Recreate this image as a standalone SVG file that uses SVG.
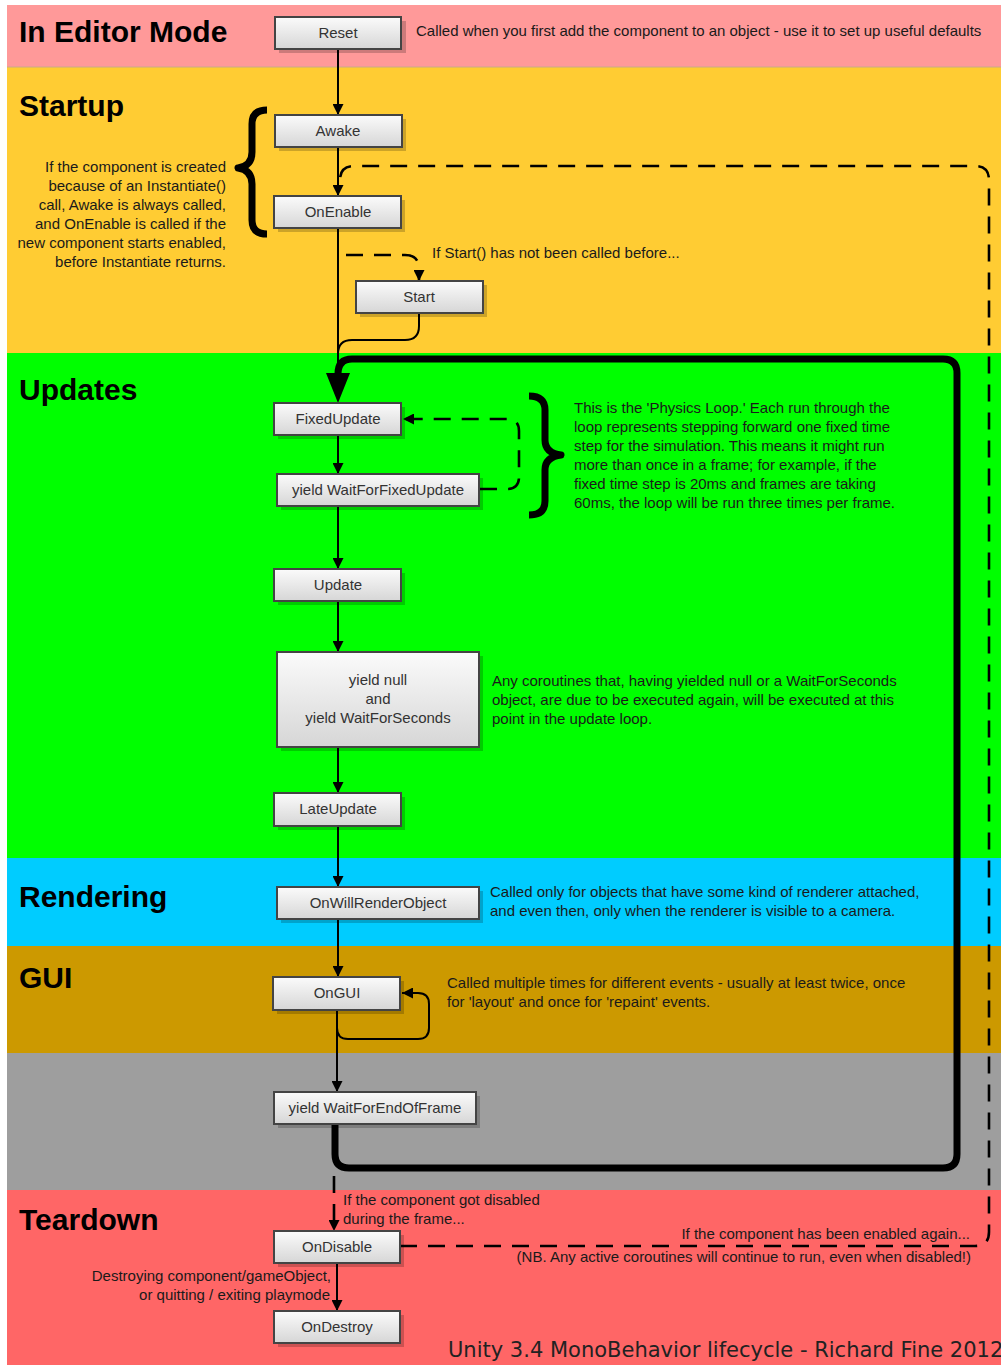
<svg xmlns="http://www.w3.org/2000/svg" width="1001" height="1365" viewBox="0 0 1001 1365">
  <defs>
    <linearGradient id="boxFill" x1="0" y1="0" x2="0" y2="1">
      <stop offset="0" stop-color="#fbfbfb"/>
      <stop offset="1" stop-color="#d6d6d6"/>
    </linearGradient>
    <marker id="arrow" viewBox="0 0 10 10" refX="10" refY="5" markerWidth="11" markerHeight="11" markerUnits="userSpaceOnUse" orient="auto">
      <path d="M0,0 L10,5 L0,10 Z" fill="#000"/>
    </marker>
    <style>
      .band-title { font-family: "Liberation Sans", Arial, sans-serif; font-weight: bold; font-size: 30px; fill: #000; }
      .node rect.box { fill: url(#boxFill); stroke: #444; stroke-width: 2; }
      .node rect.shadow { fill: #000; fill-opacity: 0.2; }
      .node text { font-family: "Liberation Sans", Arial, sans-serif; font-size: 15px; fill: #333; text-anchor: middle; }
      .note { font-family: "Liberation Sans", Arial, sans-serif; font-size: 15px; fill: #1a1a1a; }
      .note.r { text-anchor: end; }
      .solid { fill: none; stroke: #000; stroke-width: 2; }
      .dash { fill: none; stroke: #000; stroke-width: 2.6; stroke-dasharray: 17 11; }
      .thick { fill: none; stroke: #000; stroke-width: 7; }
      .brace { fill: none; stroke: #000; stroke-width: 7; stroke-linejoin: round; }
      .footer { font-family: "DejaVu Sans", Verdana, sans-serif; font-size: 21px; fill: #222; }
    </style>
  </defs>

  <!-- background bands -->
  <rect x="0" y="0" width="1001" height="1365" fill="#fff"/>
  <g id="bands">
    <rect x="7" y="5" width="994" height="62" fill="#ff9999"/>
    <rect x="7" y="67" width="994" height="286" fill="#ffcc33"/>
    <rect x="7" y="353" width="994" height="505" fill="#00ff00"/>
    <rect x="7" y="858" width="994" height="88" fill="#00ccff"/>
    <rect x="7" y="946" width="994" height="107" fill="#cc9900"/>
    <rect x="7" y="1053" width="994" height="137" fill="#9e9e9e"/>
    <rect x="7" y="1190" width="994" height="175" fill="#ff6666"/>
    <line x1="7" y1="67" x2="1001" y2="67" stroke="#c9a88a" stroke-width="1"/>
  </g>

  <g id="band-titles">
    <text class="band-title" x="19" y="42">In Editor Mode</text>
    <text class="band-title" x="19" y="116">Startup</text>
    <text class="band-title" x="19" y="400">Updates</text>
    <text class="band-title" x="19" y="907">Rendering</text>
    <text class="band-title" x="19" y="988">GUI</text>
    <text class="band-title" x="19" y="1230">Teardown</text>
  </g>

  <!-- connectors -->
  <g id="connectors">
    <!-- main frame loop -->
    <path class="thick" d="M335,1124 L335,1154 Q335,1168 349,1168 L943,1168 Q957,1168 957,1154 L957,373 Q957,359 943,359 L352,359 Q338,359 338,374"/>
    <path d="M326,373 L350,373 L338,403 Z" fill="#000"/>

    <path class="solid" d="M338,49 L338,115" marker-end="url(#arrow)"/>
    <path class="solid" d="M338,147 L338,196" marker-end="url(#arrow)"/>
    <path class="solid" d="M338,228 L338,374"/>
    <path class="dash" d="M346,255 L405,255 Q419,255 419,269 L419,281" marker-end="url(#arrow)"/>
    <path class="solid" d="M419,313 L419,326 Q419,340 405,340 L352,340 Q338,340 338,354"/>

    <!-- re-enable loop -->
    <path class="dash" d="M400,1246 L975,1246 Q989,1246 989,1232 L989,180 Q989,166 975,166 L354,166 Q340,166 340,180"/>

    <!-- physics loop -->
    <path class="solid" d="M338,435 L338,474" marker-end="url(#arrow)"/>
    <path class="dash" d="M480,489 L507,489 Q519,489 519,477 L519,431 Q519,419 507,419 L403,419" marker-end="url(#arrow)"/>

    <path class="solid" d="M338,506 L338,569" marker-end="url(#arrow)"/>
    <path class="solid" d="M338,601 L338,652" marker-end="url(#arrow)"/>
    <path class="solid" d="M338,747 L338,793" marker-end="url(#arrow)"/>
    <path class="solid" d="M338,826 L338,887" marker-end="url(#arrow)"/>
    <path class="solid" d="M338,919 L338,977" marker-end="url(#arrow)"/>

    <!-- OnGUI repeat -->
    <path class="solid" d="M337,1010 L337,1028 Q337,1039 348,1039 L418,1039 Q429,1039 429,1028 L429,1004 Q429,993 418,993 L402,993" marker-end="url(#arrow)"/>
    <path class="solid" d="M337,1010 L337,1092" marker-end="url(#arrow)"/>

    <path class="dash" d="M334,1176 L334,1231" marker-end="url(#arrow)"/>
    <path class="solid" d="M337,1263 L337,1311" marker-end="url(#arrow)"/>

    <!-- braces -->
    <path class="brace" d="M267,110 Q252,110 252,124 L252,152 Q252,166 238,168 Q252,170 252,184 L252,220 Q252,234 267,234"/>
    <path class="brace" d="M529,396 Q545,396 545,410 L545,440 Q545,453 561,455 Q545,457 545,470 L545,501 Q545,515 529,515"/>
  </g>

  <!-- nodes -->
  <g id="reset" class="node">
    <rect class="shadow" x="279" y="21" width="127" height="32"/>
    <rect class="box" x="275" y="17" width="126" height="32"/>
    <text x="338" y="38">Reset</text>
  </g>
  <g id="awake" class="node">
    <rect class="shadow" x="279" y="119" width="127" height="32"/>
    <rect class="box" x="275" y="115" width="127" height="32"/>
    <text x="338" y="136">Awake</text>
  </g>
  <g id="onenable" class="node">
    <rect class="shadow" x="278" y="200" width="127" height="32"/>
    <rect class="box" x="274" y="196" width="127" height="32"/>
    <text x="338" y="217">OnEnable</text>
  </g>
  <g id="start" class="node">
    <rect class="shadow" x="360" y="285" width="127" height="32"/>
    <rect class="box" x="356" y="281" width="127" height="32"/>
    <text x="419" y="302">Start</text>
  </g>
  <g id="fixedupdate" class="node">
    <rect class="shadow" x="278" y="407" width="127" height="32"/>
    <rect class="box" x="274" y="403" width="127" height="32"/>
    <text x="338" y="424">FixedUpdate</text>
  </g>
  <g id="waitforfixedupdate" class="node">
    <rect class="shadow" x="281" y="478" width="202" height="32"/>
    <rect class="box" x="277" y="474" width="202" height="32"/>
    <text x="378" y="495">yield WaitForFixedUpdate</text>
  </g>
  <g id="update" class="node">
    <rect class="shadow" x="278" y="573" width="127" height="32"/>
    <rect class="box" x="274" y="569" width="127" height="32"/>
    <text x="338" y="590">Update</text>
  </g>
  <g id="yieldnull" class="node">
    <rect class="shadow" x="281" y="656" width="202" height="95"/>
    <rect class="box" x="277" y="652" width="202" height="95"/>
    <text x="378" y="685">yield null</text>
    <text x="378" y="704">and</text>
    <text x="378" y="723">yield WaitForSeconds</text>
  </g>
  <g id="lateupdate" class="node">
    <rect class="shadow" x="278" y="797" width="127" height="33"/>
    <rect class="box" x="274" y="793" width="127" height="33"/>
    <text x="338" y="814">LateUpdate</text>
  </g>
  <g id="onwillrenderobject" class="node">
    <rect class="shadow" x="281" y="891" width="202" height="32"/>
    <rect class="box" x="277" y="887" width="202" height="32"/>
    <text x="378" y="908">OnWillRenderObject</text>
  </g>
  <g id="ongui" class="node">
    <rect class="shadow" x="277" y="981" width="127" height="33"/>
    <rect class="box" x="273" y="977" width="127" height="33"/>
    <text x="337" y="998">OnGUI</text>
  </g>
  <g id="waitforendofframe" class="node">
    <rect class="shadow" x="278" y="1096" width="202" height="32"/>
    <rect class="box" x="274" y="1092" width="202" height="32"/>
    <text x="375" y="1113">yield WaitForEndOfFrame</text>
  </g>
  <g id="ondisable" class="node">
    <rect class="shadow" x="278" y="1235" width="126" height="32"/>
    <rect class="box" x="274" y="1231" width="126" height="32"/>
    <text x="337" y="1252">OnDisable</text>
  </g>
  <g id="ondestroy" class="node">
    <rect class="shadow" x="278" y="1315" width="126" height="32"/>
    <rect class="box" x="274" y="1311" width="126" height="32"/>
    <text x="337" y="1332">OnDestroy</text>
  </g>

  <!-- annotations -->
  <g id="notes">
    <text class="note" x="416" y="36">Called when you first add the component to an object - use it to set up useful defaults</text>

    <text class="note r" x="226" y="172">If the component is created</text>
    <text class="note r" x="226" y="191">because of an Instantiate()</text>
    <text class="note r" x="226" y="210">call, Awake is always called,</text>
    <text class="note r" x="226" y="229">and OnEnable is called if the</text>
    <text class="note r" x="226" y="248">new component starts enabled,</text>
    <text class="note r" x="226" y="267">before Instantiate returns.</text>

    <text class="note" x="432" y="258">If Start() has not been called before...</text>

    <text class="note" x="574" y="413">This is the 'Physics Loop.' Each run through the</text>
    <text class="note" x="574" y="432">loop represents stepping forward one fixed time</text>
    <text class="note" x="574" y="451">step for the simulation. This means it might run</text>
    <text class="note" x="574" y="470">more than once in a frame; for example, if the</text>
    <text class="note" x="574" y="489">fixed time step is 20ms and frames are taking</text>
    <text class="note" x="574" y="508">60ms, the loop will be run three times per frame.</text>

    <text class="note" x="492" y="686">Any coroutines that, having yielded null or a WaitForSeconds</text>
    <text class="note" x="492" y="705">object, are due to be executed again, will be executed at this</text>
    <text class="note" x="492" y="724">point in the update loop.</text>

    <text class="note" x="490" y="897">Called only for objects that have some kind of renderer attached,</text>
    <text class="note" x="490" y="916">and even then, only when the renderer is visible to a camera.</text>

    <text class="note" x="447" y="988">Called multiple times for different events - usually at least twice, once</text>
    <text class="note" x="447" y="1007">for 'layout' and once for 'repaint' events.</text>

    <text class="note" x="343" y="1205">If the component got disabled</text>
    <text class="note" x="343" y="1224">during the frame...</text>
    <text class="note r" x="970" y="1239">If the component has been enabled again...</text>
    <text class="note r" x="971" y="1262">(NB. Any active coroutines will continue to run, even when disabled!)</text>
    <text class="note r" x="331" y="1281">Destroying component/gameObject,</text>
    <text class="note r" x="330" y="1300">or quitting / exiting playmode</text>
  </g>

  <text class="footer" x="448" y="1357">Unity 3.4 MonoBehavior lifecycle - Richard Fine 2012</text>
</svg>
